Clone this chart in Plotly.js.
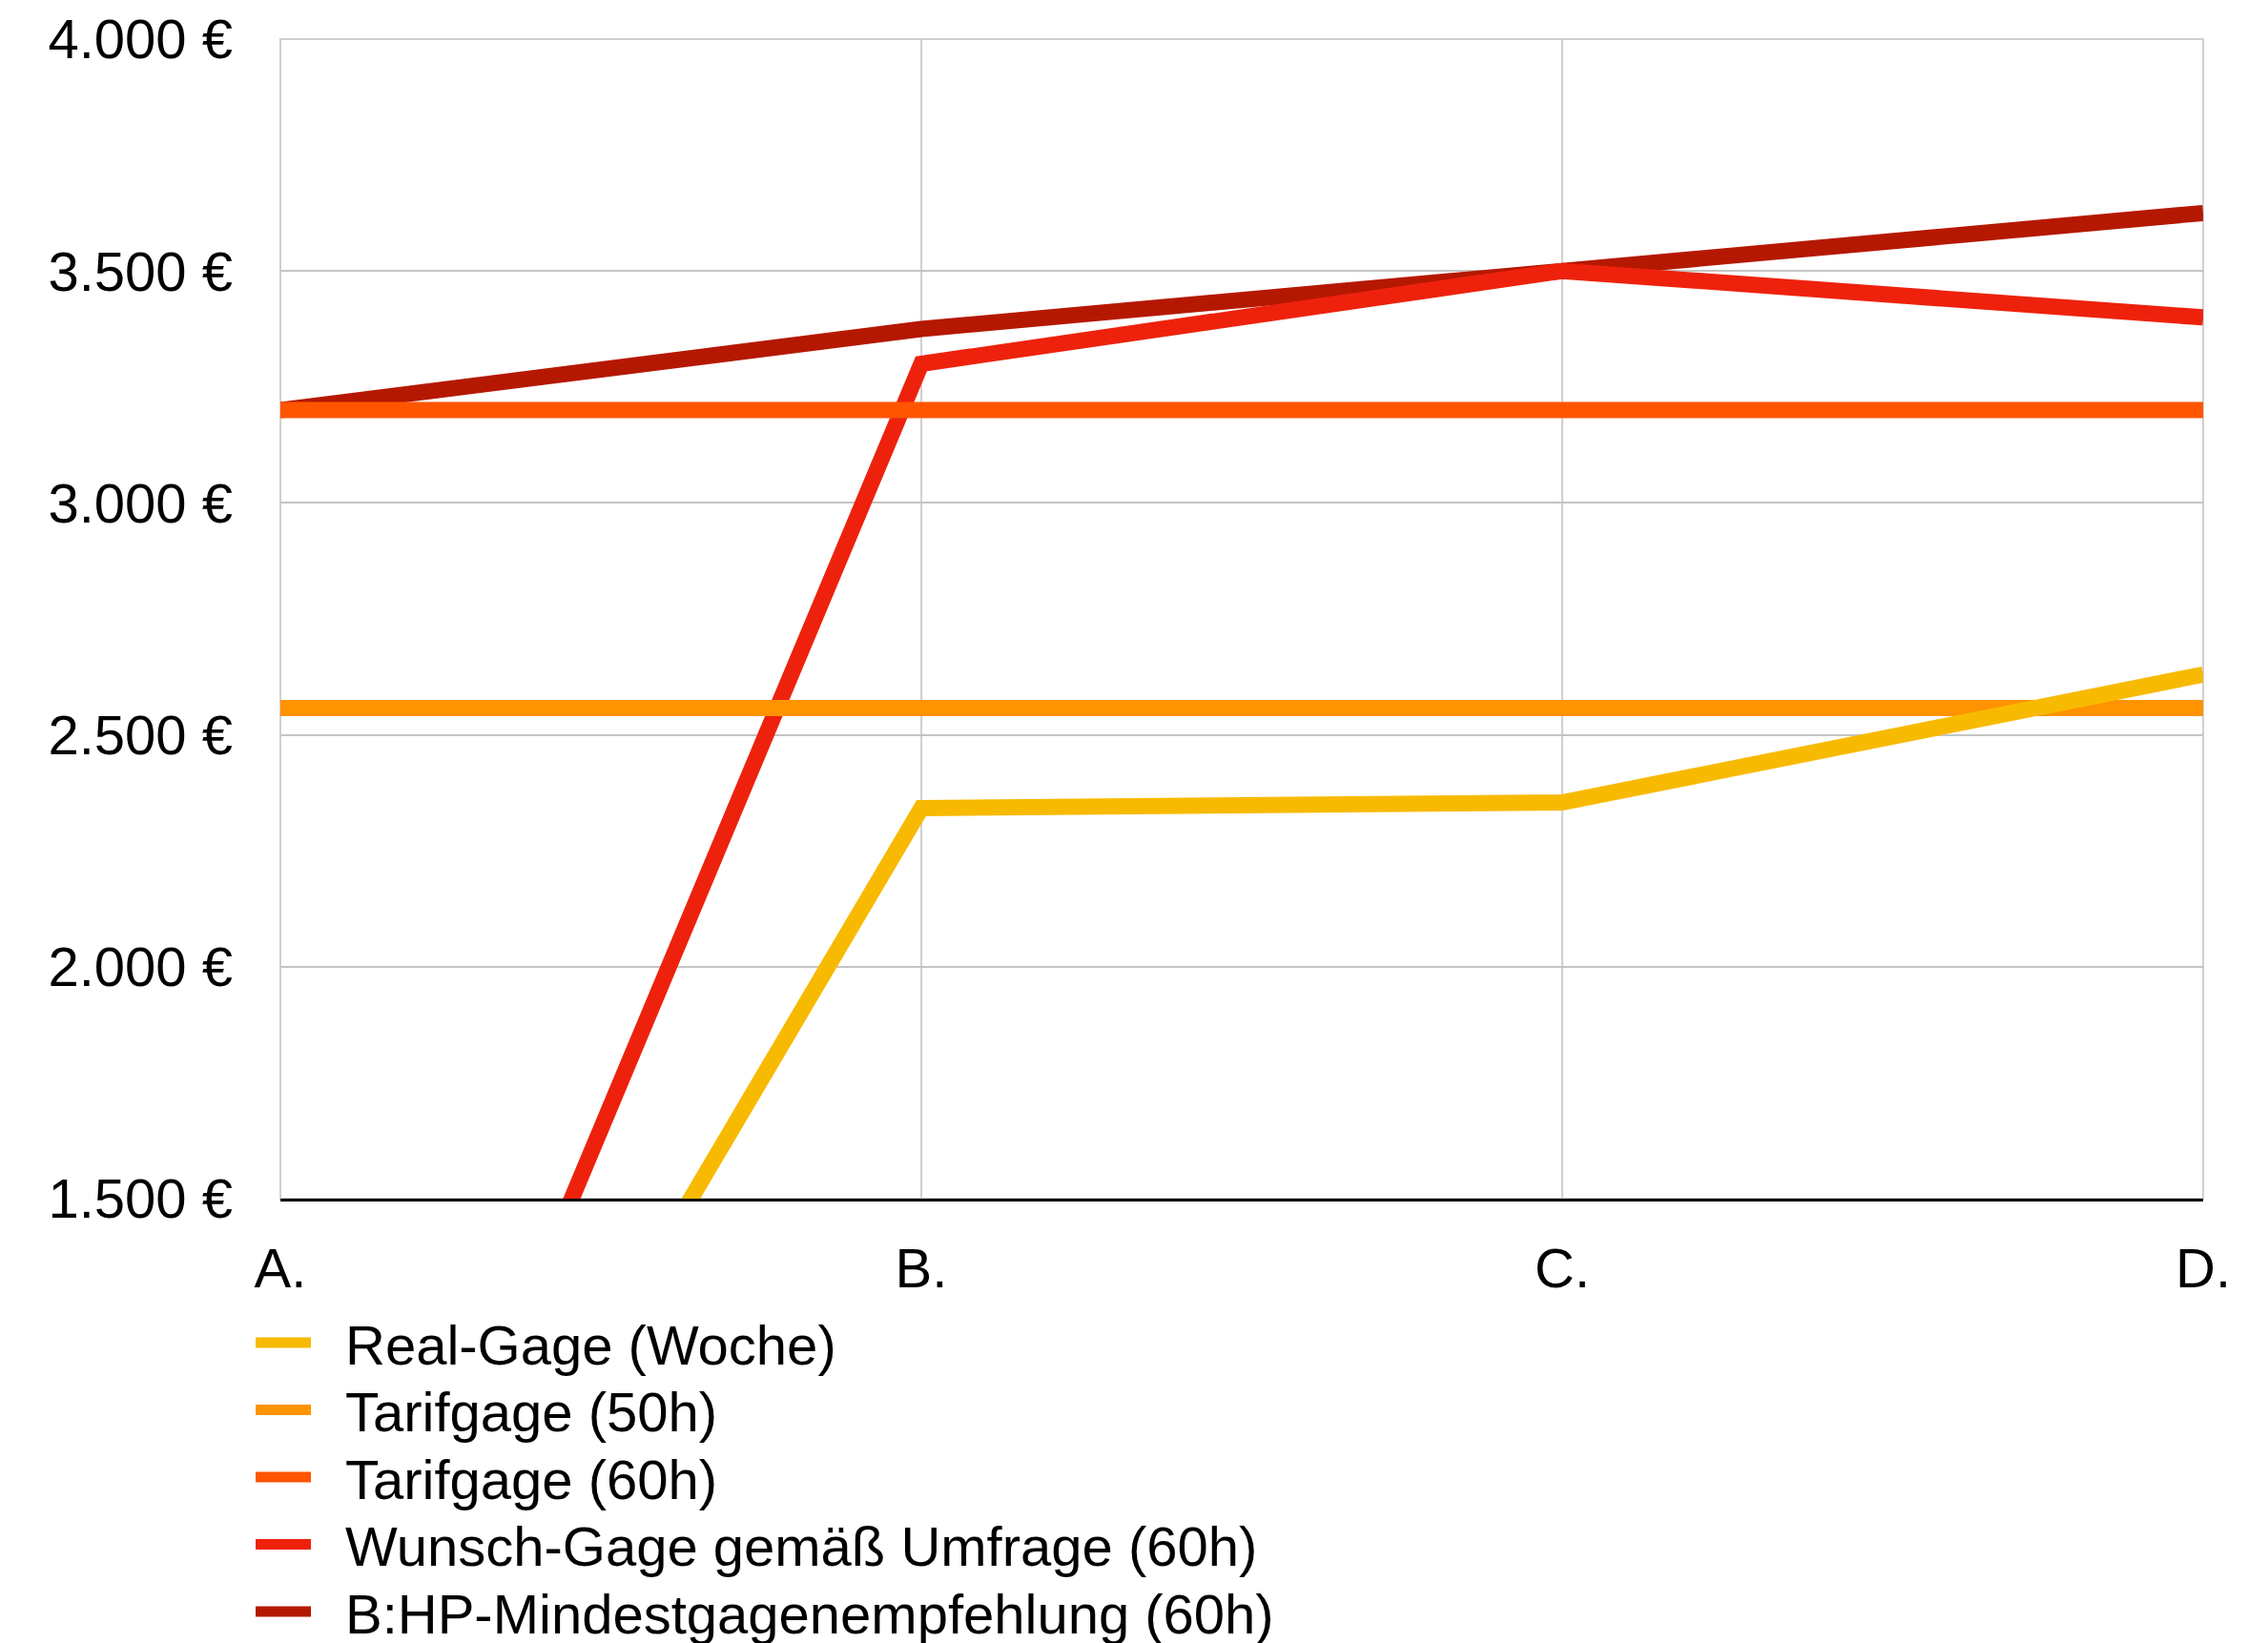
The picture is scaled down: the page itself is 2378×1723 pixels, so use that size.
<!DOCTYPE html>
<html><head><meta charset="utf-8">
<script src="https://cdn.plot.ly/plotly-3.0.1.min.js"></script>
<style>html,body{margin:0;padding:0;background:#fff}#chart{width:2378px;height:1723px}</style>
</head><body><div id="chart"></div>
<script>
// ---- data ----
const categories = ["A.", "B.", "C.", "D."];
const realGage   = [0, 2342, 2354, 2630];     // Real-Gage (Woche)
const tarif50    = [2558, 2558, 2558, 2558];  // Tarifgage (50h)
const tarif60    = [3200, 3200, 3200, 3200];  // Tarifgage (60h)
const wunschGage = [0, 3300, 3500, 3400];     // Wunsch-Gage gemäß Umfrage (60h)
const bhpGage    = [3200, 3375, 3500, 3625];  // B:HP-Mindestgagenempfehlung (60h)

const seriesNames = [
  "Real-Gage (Woche)",
  "Tarifgage (50h)",
  "Tarifgage (60h)",
  "Wunsch-Gage gemäß Umfrage (60h)",
  "B:HP-Mindestgagenempfehlung (60h)"
];
const seriesValues = [realGage, tarif50, tarif60, wunschGage, bhpGage];
const seriesColors = ["#F8BA00", "#FF9300", "#FF5500", "#EE220C", "#B51800"];

const yTickVals = [1500, 2000, 2500, 3000, 3500, 4000];
const yTickText = ["1.500 €", "2.000 €", "2.500 €", "3.000 €", "3.500 €", "4.000 €"];

const FONT = '"Liberation Sans", Arial, Helvetica, sans-serif';
const FS = 58;

// plot area geometry (pixels)
const W = 2378, H = 1723;
const M = {l: 294, r: 68, t: 41, b: 466};
const PW = W - M.l - M.r, PH = H - M.t - M.b;
const px2x = p => (p - M.l) / PW;
const px2y = p => (H - M.b - p) / PH;

// last series drawn first so the first series sits on top
const traces = [];
for (let i = seriesNames.length - 1; i >= 0; i--) {
  traces.push({
    type: "scatter",
    mode: "lines",
    x: categories,
    y: seriesValues[i],
    name: seriesNames[i],
    line: {color: seriesColors[i], width: 17},
    hoverinfo: "skip",
    showlegend: false
  });
}

// light frame around the plot area (left/right/top grid edges)
const shapes = [{
  type: "rect", xref: "paper", yref: "paper",
  x0: 0, x1: 1, y0: 0, y1: 1,
  line: {color: "#d0d0d0", width: 2},
  fillcolor: "rgba(0,0,0,0)",
  layer: "below"
}];
// legend drawn below the plot (swatch + label per series)
const annotations = [];
seriesNames.forEach((name, i) => {
  const yc = 1408 + i * 70.5;
  shapes.push({
    type: "line", xref: "paper", yref: "paper",
    x0: px2x(268), x1: px2x(326), y0: px2y(yc), y1: px2y(yc),
    line: {color: seriesColors[i], width: 11}
  });
  annotations.push({
    xref: "paper", yref: "paper",
    x: px2x(360), y: px2y(yc + 2),
    xanchor: "left", yanchor: "middle",
    text: name, showarrow: false,
    font: {family: FONT, size: FS, color: "#000000"}
  });
});

const layout = {
  width: W,
  height: H,
  paper_bgcolor: "#ffffff",
  plot_bgcolor: "#ffffff",
  font: {family: FONT, size: FS, color: "#000000"},
  margin: {l: M.l, r: M.r, t: M.t, b: M.b, autoexpand: false},
  showlegend: false,
  shapes: shapes,
  annotations: annotations,
  xaxis: {
    type: "category",
    range: [0, 3],
    showgrid: true,
    gridcolor: "#d0d0d0",
    gridwidth: 2,
    showline: true,
    linecolor: "#000000",
    linewidth: 3,
    zeroline: false,
    ticks: "",
    ticklabelstandoff: 20,
    tickfont: {family: FONT, size: FS, color: "#000000"}
  },
  yaxis: {
    range: [1500, 4000],
    tickvals: yTickVals,
    ticktext: yTickText,
    showgrid: true,
    gridcolor: "#c4c4c4",
    gridwidth: 2,
    showline: false,
    zeroline: false,
    ticks: "",
    ticklabelstandoff: 49,
    tickfont: {family: FONT, size: FS, color: "#000000"}
  }
};

Plotly.newPlot("chart", traces, layout, {staticPlot: true, displayModeBar: false});
</script>
</body></html>
